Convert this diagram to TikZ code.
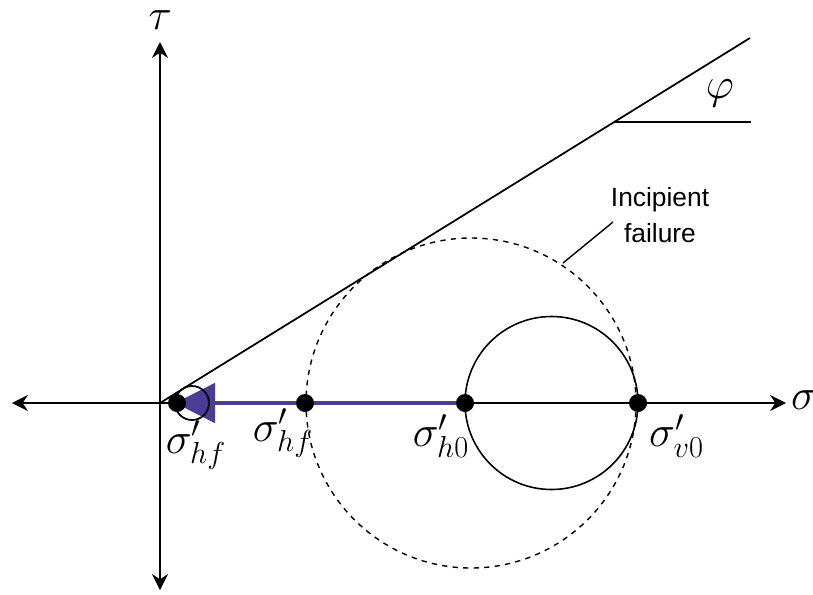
\documentclass[tikz,border=0pt]{standalone}
\usepackage{fontspec}
\newfontfamily\labelfont{Liberation Sans}
\usepackage{xcolor}
\usepackage{tikz}
\usetikzlibrary{arrows.meta,positioning}
\definecolor{pathblue}{RGB}{75,60,150}

\begin{document}
\begin{tikzpicture}[>={Stealth[length=9pt,width=9pt]}, line join=round,
  axis/.style={line width=1.1pt},
  stresslabel/.style={font=\fontsize{26}{30}\selectfont,inner sep=0pt}]
  \useasboundingbox (-3.2,-3.82) rectangle (13.06,8.06);
  \coordinate (O) at (0.000,0.000);
  \coordinate (L) at (-2.960,0.000);
  \coordinate (R) at (12.520,0.000);
  \coordinate (T) at (0.000,7.220);
  \coordinate (B) at (0.000,-3.740);
  \coordinate (E) at (11.800,7.300);
  \coordinate (H0) at (9.085,5.620);
  \coordinate (H1) at (11.820,5.620);
  \coordinate (SF) at (0.340,0.000);
  \coordinate (SHF) at (2.900,0.000);
  \coordinate (SH0) at (6.100,0.000);
  \coordinate (SV0) at (9.560,0.000);
  \coordinate (CP) at (8.060,2.800);
  \coordinate (CQ) at (9.060,3.620);
  \draw[axis,<->] (L) -- (R);
  \draw[axis,<->] (B) -- (T);
  \draw[line width=1pt] (O) -- (E);
  \draw[line width=1pt] (H0) -- (H1);
  \draw[line width=0.8pt,dash pattern=on 3pt off 3pt] (6.220,0.000) circle (3.300);
  \draw[line width=0.9pt] (7.830,0.000) circle (1.730);
  \draw[pathblue,line width=2.8pt,-{Triangle[length=0.8cm,width=0.78cm]}] (SH0) -- (0.300,0.000);
  \fill (SF) circle (0.18);
  \fill (SHF) circle (0.18);
  \fill (SH0) circle (0.18);
  \fill (SV0) circle (0.18);
  \draw[line width=1pt] (0.640,0.000) circle (0.340);
  \draw[line width=0.8pt] (CP) -- (CQ);
  \node[font=\labelfont\fontsize{15}{20}\selectfont,align=center] (fail) at (10.000,3.760) {Incipient\\failure};
  \node[stresslabel] (tau) at (0.000,7.660) {$\tau$};
  \node[stresslabel] (sig) at (12.880,0.060) {$\sigma$};
  \node[stresslabel] (phi) at (11.200,6.200) {$\varphi$};
  \node[stresslabel] (lhf1) at (0.720,-0.840) {$\sigma'_{hf}$};
  \node[stresslabel] (lhf2) at (2.460,-0.600) {$\sigma'_{hf}$};
  \node[stresslabel] (lh0) at (5.620,-0.660) {$\sigma'_{h0}$};
  \node[stresslabel] (lv0) at (10.330,-0.660) {$\sigma'_{v0}$};
\end{tikzpicture}
\end{document}
